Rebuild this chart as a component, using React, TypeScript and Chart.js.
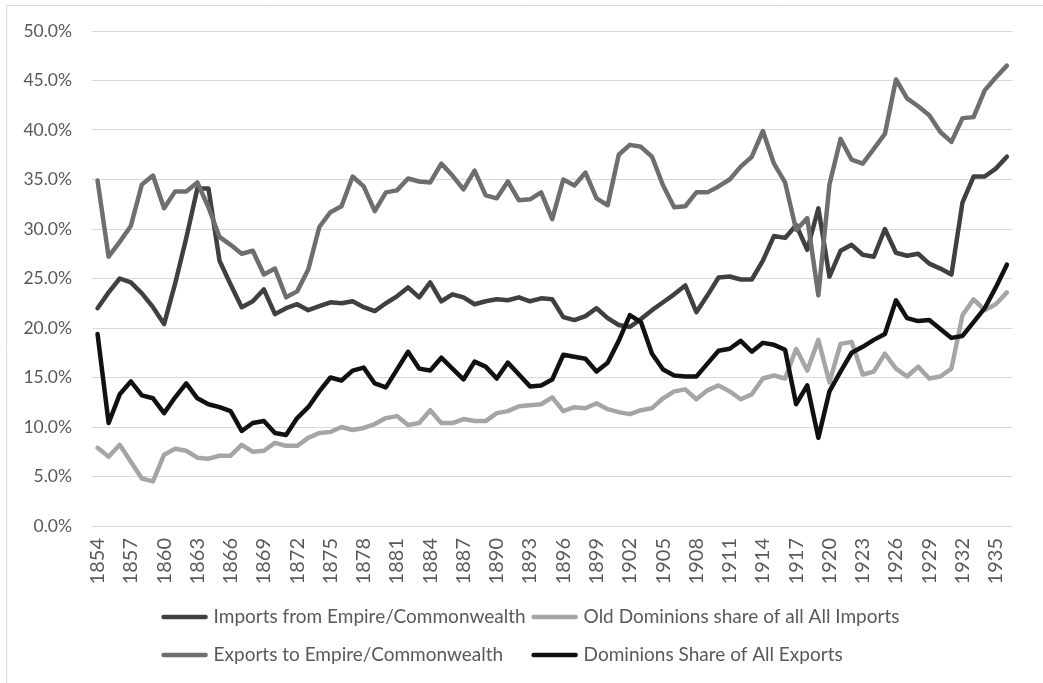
import React, { useEffect, useRef } from 'react';
import { Chart, registerables } from 'chart.js';

Chart.register(...registerables);

const years = [
  '1854', '1855', '1856', '1857', '1858', '1859', '1860', '1861', '1862', '1863',
  '1864', '1865', '1866', '1867', '1868', '1869', '1870', '1871', '1872', '1873',
  '1874', '1875', '1876', '1877', '1878', '1879', '1880', '1881', '1882', '1883',
  '1884', '1885', '1886', '1887', '1888', '1889', '1890', '1891', '1892', '1893',
  '1894', '1895', '1896', '1897', '1898', '1899', '1900', '1901', '1902', '1903',
  '1904', '1905', '1906', '1907', '1908', '1909', '1910', '1911', '1912', '1913',
  '1914', '1915', '1916', '1917', '1918', '1919', '1920', '1921', '1922', '1923',
  '1924', '1925', '1926', '1927', '1928', '1929', '1930', '1931', '1932', '1933',
  '1934', '1935', '1936',
];

const shownYearTicks = [
  '1854', '1857', '1860', '1863', '1866', '1869', '1872', '1875', '1878', '1881',
  '1884', '1887', '1890', '1893', '1896', '1899', '1902', '1905', '1908', '1911',
  '1914', '1917', '1920', '1923', '1926', '1929', '1932', '1935',
];

const importsFromEmpire = [
  22.0, 23.6, 25.0, 24.6, 23.5, 22.1, 20.4, 24.5, 29.1, 34.1,
  34.1, 26.8, 24.4, 22.1, 22.7, 23.9, 21.4, 22.0, 22.4, 21.8,
  22.2, 22.6, 22.5, 22.7, 22.1, 21.7, 22.5, 23.2, 24.1, 23.1,
  24.6, 22.7, 23.4, 23.1, 22.4, 22.7, 22.9, 22.8, 23.1, 22.7,
  23.0, 22.9, 21.1, 20.8, 21.2, 22.0, 21.0, 20.3, 20.1, 20.9,
  21.8, 22.6, 23.4, 24.3, 21.6, 23.3, 25.1, 25.2, 24.9, 24.9,
  26.8, 29.3, 29.1, 30.4, 27.9, 32.1, 25.2, 27.8, 28.4, 27.4,
  27.2, 30.0, 27.6, 27.3, 27.5, 26.5, 26.0, 25.4, 32.7, 35.3,
  35.3, 36.1, 37.3,
];

const oldDominionsImports = [
  7.9, 7.0, 8.2, 6.5, 4.8, 4.5, 7.2, 7.8, 7.6, 6.9,
  6.8, 7.1, 7.1, 8.2, 7.5, 7.6, 8.4, 8.1, 8.1, 8.9,
  9.4, 9.5, 10.0, 9.7, 9.9, 10.3, 10.9, 11.1, 10.2, 10.4,
  11.7, 10.4, 10.4, 10.8, 10.6, 10.6, 11.4, 11.6, 12.1, 12.2,
  12.3, 13.0, 11.6, 12.0, 11.9, 12.4, 11.8, 11.5, 11.3, 11.7,
  11.9, 12.9, 13.6, 13.8, 12.8, 13.7, 14.2, 13.6, 12.8, 13.3,
  14.9, 15.2, 14.9, 17.9, 15.7, 18.8, 14.5, 18.4, 18.6, 15.3,
  15.6, 17.4, 15.9, 15.1, 16.1, 14.9, 15.1, 15.9, 21.3, 22.9,
  21.8, 22.4, 23.6,
];

const exportsToEmpire = [
  34.9, 27.2, 28.7, 30.3, 34.5, 35.4, 32.1, 33.8, 33.8, 34.7,
  32.2, 29.2, 28.4, 27.5, 27.8, 25.4, 26.0, 23.1, 23.7, 25.9,
  30.2, 31.7, 32.3, 35.3, 34.3, 31.8, 33.7, 33.9, 35.1, 34.8,
  34.7, 36.6, 35.4, 34.0, 35.9, 33.4, 33.1, 34.8, 32.9, 33.0,
  33.7, 31.0, 35.0, 34.4, 35.7, 33.1, 32.4, 37.5, 38.5, 38.3,
  37.3, 34.4, 32.2, 32.3, 33.7, 33.7, 34.3, 35.0, 36.3, 37.3,
  39.9, 36.6, 34.7, 29.9, 31.1, 23.3, 34.5, 39.1, 37.0, 36.6,
  38.1, 39.6, 45.1, 43.2, 42.4, 41.5, 39.8, 38.8, 41.2, 41.3,
  44.0, 45.3, 46.5,
];

const dominionsExports = [
  19.4, 10.4, 13.3, 14.6, 13.2, 12.9, 11.4, 13.0, 14.4, 12.9,
  12.3, 12.0, 11.6, 9.6, 10.4, 10.6, 9.4, 9.2, 10.9, 12.0,
  13.6, 15.0, 14.7, 15.7, 16.0, 14.4, 14.0, 15.8, 17.6, 15.9,
  15.7, 17.0, 15.9, 14.8, 16.6, 16.1, 14.9, 16.5, 15.3, 14.1,
  14.2, 14.8, 17.3, 17.1, 16.9, 15.6, 16.5, 18.7, 21.3, 20.6,
  17.4, 15.8, 15.2, 15.1, 15.1, 16.4, 17.7, 17.9, 18.7, 17.6,
  18.5, 18.3, 17.8, 12.3, 14.2, 8.9, 13.6, 15.6, 17.5, 18.1,
  18.8, 19.4, 22.8, 21.0, 20.7, 20.8, 19.9, 19.0, 19.2, 20.6,
  22.0, 24.1, 26.4,
];

const seriesNames = [
  'Imports from Empire/Commonwealth',
  'Old Dominions share of all All Imports',
  'Exports to Empire/Commonwealth',
  'Dominions Share of All Exports',
];

const seriesColors = ['#404040', '#a5a5a5', '#6e6e6e', '#111111'];

const FONT = 'Lato, "Open Sans", sans-serif';
const TEXT_COLOR = '#595959';
const LINE_W = 4.5;

export default function App() {
  const ref = useRef<HTMLCanvasElement | null>(null);

  useEffect(() => {
    document.body.style.margin = '0';
    document.body.style.overflow = 'hidden';
    const canvas = ref.current;
    if (!canvas) return;

    const framePlugin = {
      id: 'frame',
      beforeDraw(chart: any) {
        const ctx = chart.ctx;
        ctx.save();
        ctx.fillStyle = '#ffffff';
        ctx.fillRect(0, 0, chart.width, chart.height);
        ctx.strokeStyle = '#d9d9d9';
        ctx.lineWidth = 1;
        ctx.beginPath();
        ctx.moveTo(6.5, chart.height);
        ctx.lineTo(6.5, 5.5);
        ctx.lineTo(chart.width, 5.5);
        ctx.stroke();
        ctx.restore();
      },
    };

    const legendPlugin = {
      id: 'gridLegend',
      afterDraw(chart: any) {
        const ctx = chart.ctx;
        ctx.save();
        ctx.font = `19px ${FONT}`;
        ctx.textBaseline = 'middle';
        ctx.textAlign = 'left';
        const lineLen = 46;
        const gap = 6;
        const colGap = 6;
        const w = seriesNames.map((n) => ctx.measureText(n).width);
        const col1 = Math.max(w[0], w[2]);
        const col2 = Math.max(w[1], w[3]);
        const total = lineLen + gap + col1 + colGap + lineLen + gap + col2;
        const startX = 530.5 - total / 2;
        const colX = [startX, startX + lineLen + gap + col1 + colGap];
        const rowY = [617, 655];
        seriesNames.forEach((name, i) => {
          const x = colX[i % 2];
          const y = rowY[Math.floor(i / 2)];
          ctx.strokeStyle = seriesColors[i];
          ctx.lineWidth = LINE_W;
          ctx.lineCap = 'round';
          ctx.beginPath();
          ctx.moveTo(x + 2, y);
          ctx.lineTo(x + lineLen - 2, y);
          ctx.stroke();
          ctx.fillStyle = TEXT_COLOR;
          ctx.fillText(name, x + lineLen + gap, y);
        });
        ctx.restore();
      },
    };

    const data = [importsFromEmpire, oldDominionsImports, exportsToEmpire, dominionsExports];

    const chart = new Chart(canvas, {
      type: 'line',
      data: {
        labels: years,
        datasets: data.map((d, i) => ({
          label: seriesNames[i],
          data: d,
          borderColor: seriesColors[i],
          backgroundColor: seriesColors[i],
          borderWidth: LINE_W,
          pointRadius: 0,
          pointHoverRadius: 0,
          tension: 0,
          fill: false,
          borderJoinStyle: 'round' as const,
          borderCapStyle: 'round' as const,
          order: 4 - i,
        })),
      },
      options: {
        animation: false,
        responsive: false,
        devicePixelRatio: 1,
        layout: { padding: { left: 0, right: 21, top: 31, bottom: 0 } },
        plugins: {
          legend: { display: false },
          tooltip: { enabled: false },
          title: { display: false },
        },
        scales: {
          x: {
            type: 'category',
            offset: true,
            grid: { display: false, drawTicks: false },
            border: { display: false },
            ticks: {
              autoSkip: false,
              maxRotation: 90,
              minRotation: 90,
              padding: 12,
              color: TEXT_COLOR,
              font: { family: FONT, size: 20 },
              callback: (_v: any, idx: number) =>
                shownYearTicks.includes(years[idx]) ? years[idx] : '',
            },
            afterFit: (scale: any) => {
              scale.height = 157;
            },
          },
          y: {
            min: 0,
            max: 50,
            grid: { color: '#d9d9d9', lineWidth: 1, drawTicks: false },
            border: { display: false },
            ticks: {
              stepSize: 5,
              padding: 20,
              color: TEXT_COLOR,
              font: { family: FONT, size: 17.5 },
              callback: (v: any) => Number(v).toFixed(1) + '%',
            },
            afterFit: (scale: any) => {
              scale.width = 92;
            },
          },
        },
      },
      plugins: [framePlugin, legendPlugin],
    });

    return () => chart.destroy();
  }, []);

  return (
    <canvas
      ref={ref}
      width={1043}
      height={683}
      style={{ position: 'fixed', left: 0, top: 0, width: 1043, height: 683, display: 'block' }}
    />
  );
}
